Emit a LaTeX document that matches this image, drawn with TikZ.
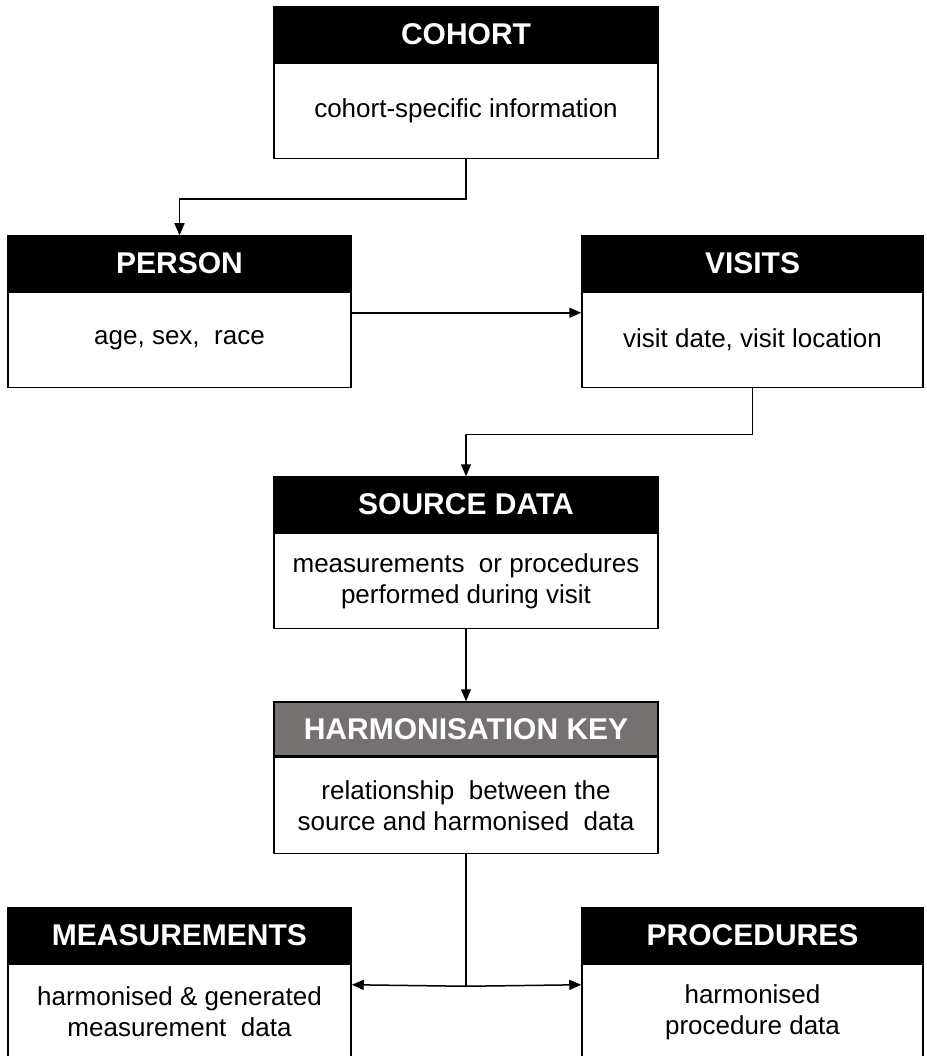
\documentclass[tikz,border=0pt]{standalone}
\usepackage{fontspec}
\setmainfont{Liberation Sans}
\usetikzlibrary{arrows.meta,positioning}
\definecolor{keygrey}{HTML}{767171}
\tikzset{
  head/.style={rectangle,draw=black,fill=black,text=white,line width=1.5pt,inner sep=0pt,
    minimum height=55pt,font=\fontsize{30}{34}\selectfont\bfseries},
  body/.style={rectangle,draw=black,fill=white,line width=1.5pt,inner sep=0pt,
    minimum height=95pt,align=center,font=\fontsize{26}{31}\selectfont},
  conn/.style={line width=1.5pt,-{Triangle[length=12pt,width=10pt]}},
}
\begin{document}
\begin{tikzpicture}[x=1pt,y=-1pt]
% \draw[help lines] (0,0) grid (926,1056);
\path[use as bounding box] (0,0) rectangle (926,1056);
\clip (0,0) rectangle (926,1056);
\node (h1) [head,minimum width=384pt] at (466,34.5) {COHORT};
\node (b1) [body,minimum width=384pt,below=0pt of h1] {cohort-specific information};
\node (h2) [head,minimum width=343pt] at (179.5,263.5) {PERSON};
\node (b2) [body,minimum width=343pt,below=0pt of h2] {age, sex,\ \ race};
\node (h3) [head,minimum width=341pt] at (752.5,263.5) {VISITS};
\node (b3) [body,minimum width=341pt,below=0pt of h3] {visit date, visit location};
\node (h4) [head,minimum width=384pt] at (466,504.5) {SOURCE DATA};
\node (b4) [body,minimum width=384pt,below=0pt of h4] {measurements\ \ or procedures\\performed during visit};
\node (h5) [head,fill=keygrey,minimum width=384pt,minimum height=54pt] at (466,729) {HARMONISATION KEY};
\node (b5) [body,minimum width=384pt,minimum height=96pt,below=0pt of h5] {relationship\ \ between the\\source and harmonised\ \ data};
\node (h6) [head,minimum width=343pt] at (179.5,935.5) {MEASUREMENTS};
\node (b6) [body,minimum width=343pt,below=0pt of h6] {harmonised \& generated\\measurement\ \ data};
\node (h7) [head,minimum width=341pt] at (752.5,935.5) {PROCEDURES};
\node (b7) [body,minimum width=341pt,below=0pt of h7] {harmonised\\procedure data};
%
\draw[conn] (b1.south) -- ++(0,40) -| (h2.north);
\draw[conn] ([yshift=-21pt]b2.north east) -- ([yshift=-21pt]b3.north west);
\draw[conn] (b3.south) -- ++(0,46) -| (h4.north);
\draw[conn] (b4.south) -- (h5.north);
%
\draw[line width=2.5pt] (b5.south) -- ++(0,132) coordinate (fork);
\draw[conn] (fork) -- ([yshift=-21pt]b6.north east);
\draw[conn] (fork) -- ([yshift=-21pt]b7.north west);
\end{tikzpicture}
\end{document}
